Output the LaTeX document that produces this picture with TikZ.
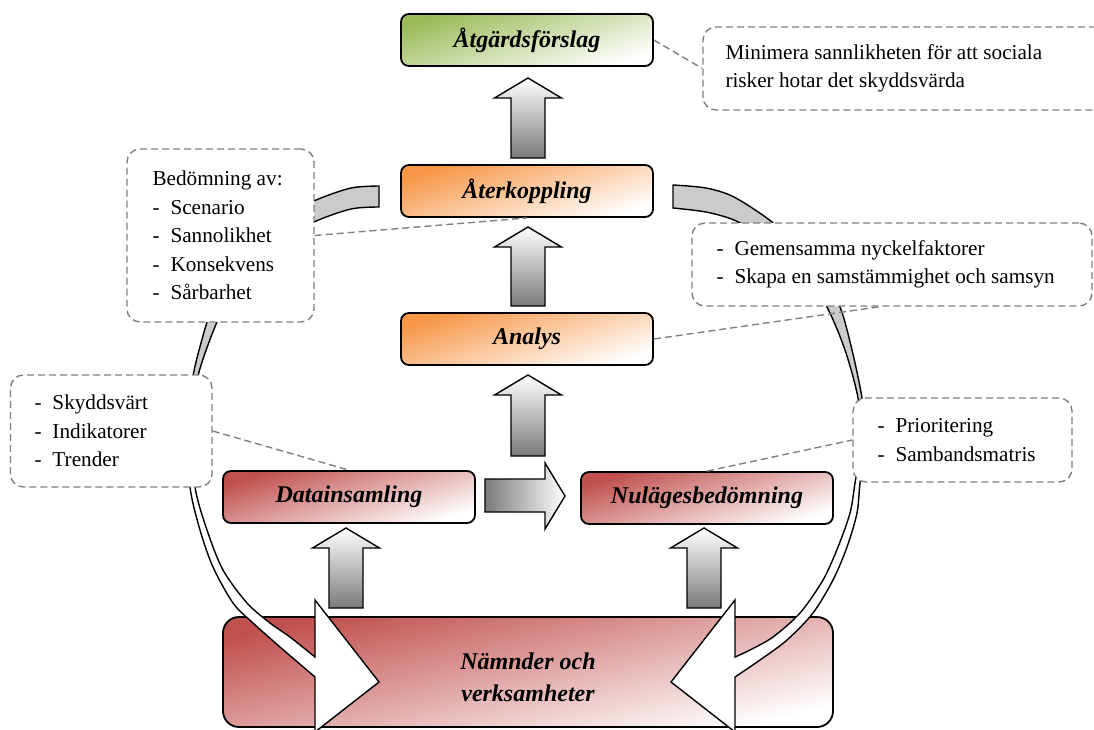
\documentclass[tikz,border=0pt]{standalone}
\usepackage{fontspec}
\setmainfont{Liberation Serif}
\usetikzlibrary{calc}
\definecolor{ogreen}{HTML}{9BBB59}
\definecolor{oorange}{HTML}{F79646}
\definecolor{ored}{HTML}{C0504D}
\definecolor{dgray}{HTML}{808080}
\definecolor{bandgray}{HTML}{CBCBCB}
\definecolor{arrgray}{HTML}{7A7A7A}
\newcommand{\bodyfont}{\fontsize{21.2}{28.5}\selectfont}
\newcommand{\labfont}{\fontsize{24}{32}\selectfont\bfseries\itshape}
\newcommand{\itm}[1]{\makebox[18pt][l]{-}#1}
\newcommand{\upblock}[3]{\draw[blockarrow, top color=white, bottom color=arrgray]
  (#1-17,#3) -- (#1-17,#2+20) -- (#1-33.5,#2+20) -- (#1,#2) -- (#1+33.5,#2+20) -- (#1+17,#2+20) -- (#1+17,#3) -- cycle;}
\def\leftband{(379,186) -- plot[smooth] coordinates {(379,207) (351,209) (314,222) (278,243) (250,272) (231,300) (217,322) (198,376) (192,430) (195,487) (207,530) (223,570) (247,603) (270,623) (290,637) (315,657)}
  -- (315,600) -- (379,682) -- (315,732)
  -- plot[smooth] coordinates {(315,677) (280,647) (253,623) (233,603) (213,567) (200,530) (190,487) (188,430) (193,376) (207,322) (220,285) (240,252) (270,222) (316,200) (351,188) (379,186)} -- cycle}
\def\rightband{(673,185) -- plot[smooth] coordinates {(673,208) (706,212) (734,220) (760,235) (785,255) (808,280) (827,307) (845,350) (858,398) (861,440) (855,483) (850,513) (838,547) (823,580) (800,613) (773,637) (750,650) (735,657)}
  -- (735,600) -- (671,682) -- (735,732)
  -- plot[smooth] coordinates {(735,677) (760,660) (787,640) (813,613) (833,580) (847,547) (857,513) (860,483) (866,440) (862,398) (852,350) (840,307) (822,278) (800,250) (772,222) (734,197) (706,188) (673,185)} -- cycle}
\begin{document}
\begin{tikzpicture}[x=1pt,y=-1pt,
  mainbox/.style={draw=black, line width=1.8pt, rounded corners=8pt, minimum width=252pt, minimum height=52pt, font=\labfont, inner sep=0pt},
  greenbox/.style={mainbox, top color=ogreen, bottom color=white, shading angle=18},
  orangebox/.style={mainbox, top color=oorange, bottom color=white, shading angle=18},
  redbox/.style={mainbox, top color=ored, bottom color=white, shading angle=18},
  blockarrow/.style={draw=black, line width=1.4pt, line join=miter},
  bandline/.style={draw=black, line width=1.4pt, line join=miter},
  callbox/.style={draw=dgray, dash pattern=on 7pt off 4pt, line width=1.4pt, rounded corners=13pt, fill=white, inner sep=0pt},
  calltext/.style={font=\bodyfont, align=left, anchor=west, inner sep=0pt},
  conn/.style={draw=dgray, dash pattern=on 7pt off 4pt, line width=1.4pt}]
\useasboundingbox (0,0) rectangle (1094,729);
% bottom box
\node[redbox, minimum width=610pt, minimum height=110pt, rounded corners=16pt, shading angle=13] (nam) at (528,672) {};
% circular arrows
\fill[white] \leftband;
\fill[white] \rightband;
\begin{scope}
\clip (0,0) rectangle (1094,440);
\fill[bandgray] \leftband;
\fill[bandgray] \rightband;
\end{scope}
\draw[bandline] \leftband;
\draw[bandline] \rightband;
\node[font=\labfont, align=center, inner sep=0pt] (namt) at (528,677) {Nämnder och\\verksamheter};
% main boxes
\node[greenbox] (atg) at (527,40) {Åtgärdsförslag};
\node[orangebox] (ater) at (527,191) {Återkoppling};
\node[orangebox] (ana) at (527,339) {Analys};
\node[redbox] (dat) at (349,497) {Datainsamling};
\node[redbox] (nul) at (707,498) {Nulägesbedömning};
% block arrows
\upblock{528}{78}{158}
\upblock{528}{227}{306}
\upblock{528}{375}{456}
\upblock{346}{528}{608}
\upblock{704}{528}{608}
\draw[blockarrow, left color=arrgray, right color=white] (485,479) -- (545,479) -- (545,463) -- (565,496) -- (545,529) -- (545,512) -- (485,512) -- cycle;
% callouts
\node[callbox, minimum width=417pt, minimum height=83pt] (minb) at (911.5,68.5) {};
\node[calltext] (mint) at ($(minb.west)+(23,0)$) {Minimera sannlikheten för att sociala\\risker hotar det skyddsvärda};
\node[callbox, minimum width=187pt, minimum height=173pt] (bedb) at (220.5,235.5) {};
\node[calltext] (bedt) at ($(bedb.west)+(26,0)$) {Bedömning av:\\\itm{Scenario}\\\itm{Sannolikhet}\\\itm{Konsekvens}\\\itm{Sårbarhet}};
\node[callbox, minimum width=400pt, minimum height=83pt] (gemb) at (892,264.5) {};
\node[calltext] (gemt) at ($(gemb.west)+(25,0)$) {\itm{Gemensamma nyckelfaktorer}\\\itm{Skapa en samstämmighet och samsyn}};
\node[callbox, minimum width=201.5pt, minimum height=112pt] (skyb) at (111.25,431) {};
\node[calltext] (skyt) at ($(skyb.west)+(24.5,0)$) {\itm{Skyddsvärt}\\\itm{Indikatorer}\\\itm{Trender}};
\node[callbox, minimum width=219pt, minimum height=84pt] (priob) at (962.5,440) {};
\node[calltext] (priot) at ($(priob.west)+(25,0)$) {\itm{Prioritering}\\\itm{Sambandsmatris}};
% connectors
\draw[conn] (atg.east) -- (minb.west);
\draw[conn] (bedb.east) -- (ater.south);
\draw[conn] (ana.east) -- ($(gemb.south)+(-12,0)$);
\draw[conn] (skyb.east) -- (dat.north);
\draw[conn] (nul.north) -- (priob.west);
\end{tikzpicture}
\end{document}
